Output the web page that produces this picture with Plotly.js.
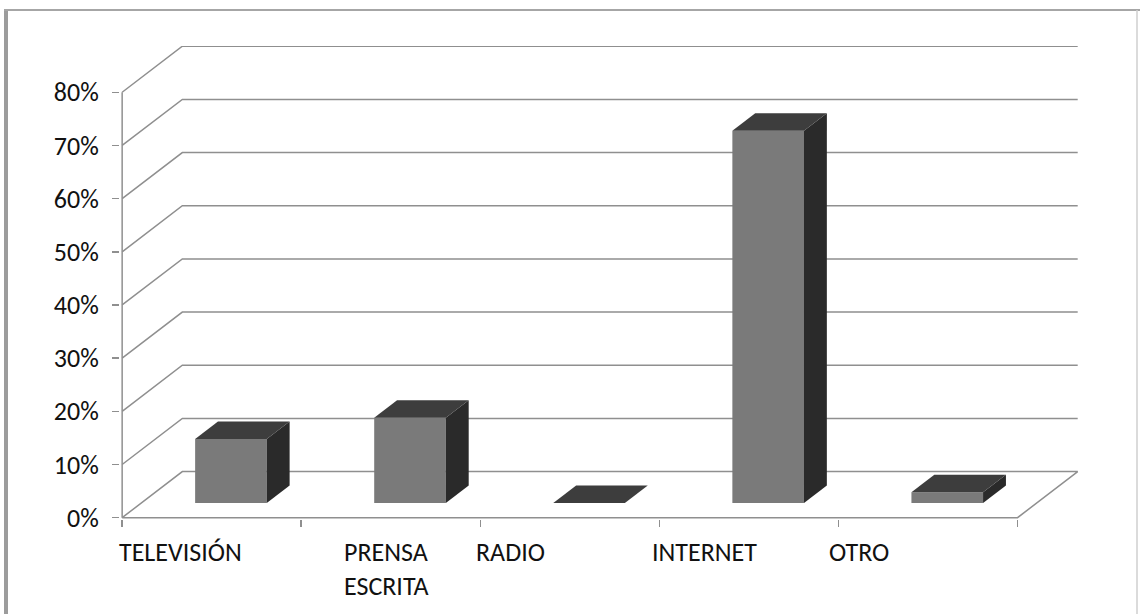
<!DOCTYPE html>
<html>
<head>
<meta charset="utf-8">
<script src="https://cdn.plot.ly/plotly-3.0.1.min.js"></script>
<style>html,body{margin:0;padding:0;background:#fff;}#chart{width:1140px;height:614px;}</style>
</head>
<body>
<div id="chart"></div>
<script>
// ---- data ----
const categories = ["TELEVISIÓN", "PRENSA<br>ESCRITA", "RADIO", "INTERNET", "OTRO"];
const values = [12, 16, 0, 70, 2];           // percent
const yTickValues = [0, 10, 20, 30, 40, 50, 60, 70, 80];
const yTickLabels = ["0%", "10%", "20%", "30%", "40%", "50%", "60%", "70%", "80%"];
// where each category label starts, relative to its category slot (Excel 3D layout)
const labelStart = [0, 1.225, 1.965, 2.945, 3.935];
const labelShift = [-5, 0, 0, 0, 0];

// ---- 3D oblique projection settings ----
const DX = 0.336;     // full depth in x units
const DY = 8.66;      // full depth in y units (%)
const D0 = 0.32, D1 = 0.70;  // bar depth span (fraction of depth)
const BW = 0.40;      // bar width in category units
const N = categories.length;

const gridColor = "#8f8f8f";
const traces = [];
function poly(xs, ys, fill, line) {
  traces.push({
    type: "scatter", mode: "lines", x: xs, y: ys,
    fill: fill ? "toself" : "none", fillcolor: fill || undefined,
    line: line || {width: 0, color: fill},
    hoverinfo: "skip", showlegend: false
  });
}
// gridlines (side wall + back wall)
yTickValues.forEach(v => {
  if (v === 0) return;
  poly([0, DX, N + DX], [v, v + DY, v + DY], null, {color: gridColor, width: 1.5});
});
// floor
poly([0, N, N + DX, DX, 0], [0, 0, DY, DY, 0], null, {color: gridColor, width: 1.5});
// vertical value axis
poly([0, 0], [0, 80], null, {color: gridColor, width: 1.5});

// bars
const frontC = "#7a7a7a", topC = "#3d3d3d", sideC = "#2a2a2a";
values.forEach((v, i) => {
  const c = i + 0.5;
  const xl = c - BW / 2 + D0 * DX, xr = c + BW / 2 + D0 * DX;
  const yb = D0 * DY, yt = yb + v;
  const ddx = (D1 - D0) * DX, ddy = (D1 - D0) * DY;
  if (v > 0) {
    poly([xl, xr, xr, xl, xl], [yb, yb, yt, yt, yb], frontC);
    poly([xr, xr + ddx, xr + ddx, xr, xr], [yb, yb + ddy, yt + ddy, yt, yb], sideC);
  }
  poly([xl, xr, xr + ddx, xl + ddx, xl], [yt, yt, yt + ddy, yt + ddy, yt], topC);
});

// layout geometry
const W = 1140, H = 614;
const m = {l: 120, r: 58, t: 46, b: 95};
const xRange = [-0.012, 5.36];
const yRange = [-0.25, 88.7];
const fontFam = "Calibri, Carlito, 'Open Sans', sans-serif";

const annotations = categories.map((c, i) => ({
  x: labelStart[i], y: 0, xref: "x", yref: "y",
  xanchor: "left", yanchor: "top", align: "left",
  xshift: labelShift[i], yshift: -16, showarrow: false, text: c,
  font: {family: fontFam, size: 26, color: "#111111"}
}));

const plotW = W - m.l - m.r, plotH = H - m.t - m.b;
const px = p => (p - m.l) / plotW;
const py = p => 1 - (p - m.t) / plotH;
const shapes = [
  {type: "line", xref: "paper", yref: "paper", x0: px(6), x1: px(6), y0: py(9), y1: py(620), line: {color: "#9c9c9c", width: 4}},
  {type: "line", xref: "paper", yref: "paper", x0: px(4), x1: px(1140), y0: py(10), y1: py(10), line: {color: "#a6a6a6", width: 2}},
  {type: "line", xref: "paper", yref: "paper", x0: px(1137), x1: px(1137), y0: py(10), y1: py(620), line: {color: "#cfcfcf", width: 1.5}}
];

const layout = {
  width: W, height: H, margin: m,
  paper_bgcolor: "#ffffff", plot_bgcolor: "#ffffff",
  showlegend: false, hovermode: false,
  xaxis: {range: xRange, showgrid: false, zeroline: false, showline: false,
          tickmode: "array", tickvals: [0, 1, 2, 3, 4, 5], ticks: "outside", ticklen: 7,
          tickcolor: gridColor, tickwidth: 1.5, showticklabels: false, fixedrange: true},
  yaxis: {range: yRange, showgrid: false, zeroline: false, showline: false,
          tickmode: "array", tickvals: yTickValues, ticktext: yTickLabels,
          ticks: "outside", ticklen: 7, tickcolor: gridColor, tickwidth: 1.5,
          ticklabelstandoff: 8,
          tickfont: {family: fontFam, size: 26, color: "#111111"},
          fixedrange: true},
  annotations: annotations,
  shapes: shapes
};

Plotly.newPlot("chart", traces, layout, {displayModeBar: false, staticPlot: true});
</script>
</body>
</html>
